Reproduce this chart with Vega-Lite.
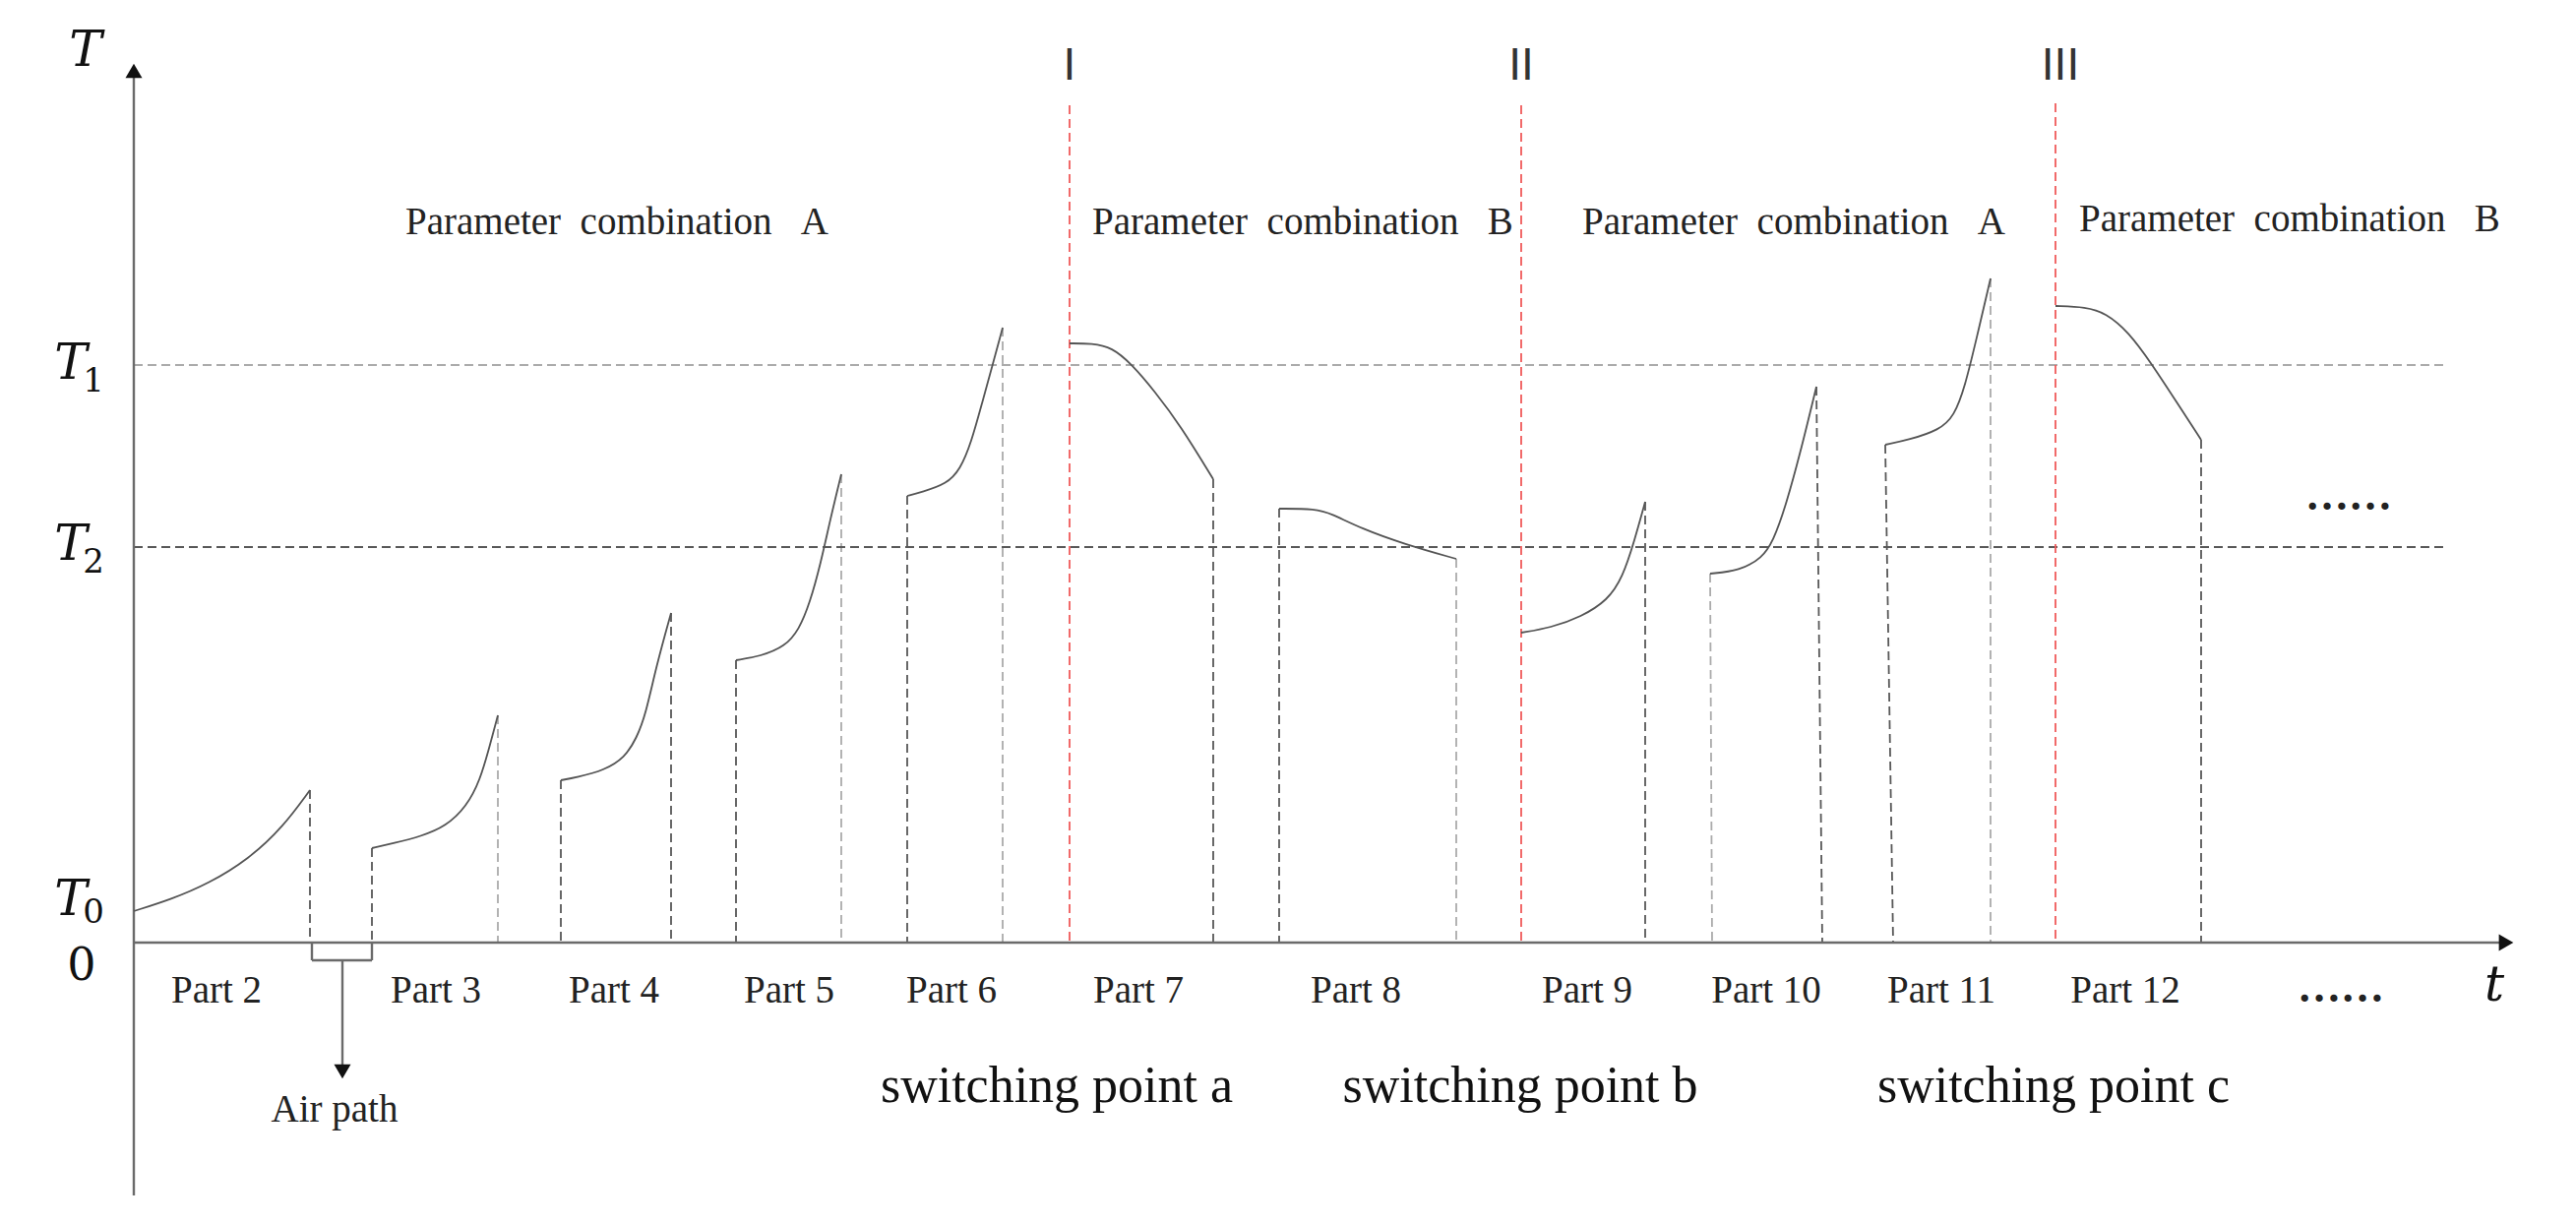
{
  "$schema": "https://vega.github.io/schema/vega-lite/v6.json",
  "width": 2618,
  "height": 1243,
  "autosize": {"type": "fit", "contains": "padding"},
  "padding": 0,
  "background": "white",
  "config": {"view": {"stroke": null}},
  "datasets": {
    "curves": [
      {"part": "Part 2", "t": 0, "T": 32}, {"part": "Part 2", "t": 38, "T": 44}, {"part": "Part 2", "t": 76, "T": 60}, {"part": "Part 2", "t": 117, "T": 85}, {"part": "Part 2", "t": 152, "T": 118}, {"part": "Part 2", "t": 179, "T": 155},
      {"part": "Part 3", "t": 242, "T": 96}, {"part": "Part 3", "t": 264, "T": 101}, {"part": "Part 3", "t": 292, "T": 108}, {"part": "Part 3", "t": 317, "T": 118}, {"part": "Part 3", "t": 338, "T": 138}, {"part": "Part 3", "t": 352, "T": 165}, {"part": "Part 3", "t": 362, "T": 201}, {"part": "Part 3", "t": 370, "T": 231},
      {"part": "Part 4", "t": 434, "T": 165}, {"part": "Part 4", "t": 450, "T": 168}, {"part": "Part 4", "t": 478, "T": 175}, {"part": "Part 4", "t": 499, "T": 188}, {"part": "Part 4", "t": 511, "T": 208}, {"part": "Part 4", "t": 520, "T": 231}, {"part": "Part 4", "t": 531, "T": 281}, {"part": "Part 4", "t": 546, "T": 335},
      {"part": "Part 5", "t": 612, "T": 287}, {"part": "Part 5", "t": 637, "T": 291}, {"part": "Part 5", "t": 662, "T": 301}, {"part": "Part 5", "t": 676, "T": 318}, {"part": "Part 5", "t": 687, "T": 345}, {"part": "Part 5", "t": 698, "T": 385}, {"part": "Part 5", "t": 708, "T": 431}, {"part": "Part 5", "t": 719, "T": 476},
      {"part": "Part 6", "t": 786, "T": 454}, {"part": "Part 6", "t": 801, "T": 458}, {"part": "Part 6", "t": 826, "T": 466}, {"part": "Part 6", "t": 840, "T": 481}, {"part": "Part 6", "t": 851, "T": 508}, {"part": "Part 6", "t": 862, "T": 548}, {"part": "Part 6", "t": 873, "T": 588}, {"part": "Part 6", "t": 883, "T": 625},
      {"part": "Part 7", "t": 951, "T": 609}, {"part": "Part 7", "t": 974, "T": 609}, {"part": "Part 7", "t": 994, "T": 605}, {"part": "Part 7", "t": 1014, "T": 588}, {"part": "Part 7", "t": 1037, "T": 561}, {"part": "Part 7", "t": 1064, "T": 525}, {"part": "Part 7", "t": 1097, "T": 471},
      {"part": "Part 8", "t": 1164, "T": 441}, {"part": "Part 8", "t": 1201, "T": 441}, {"part": "Part 8", "t": 1217, "T": 436}, {"part": "Part 8", "t": 1247, "T": 421}, {"part": "Part 8", "t": 1291, "T": 405}, {"part": "Part 8", "t": 1344, "T": 390},
      {"part": "Part 9", "t": 1410, "T": 315}, {"part": "Part 9", "t": 1440, "T": 320}, {"part": "Part 9", "t": 1471, "T": 331}, {"part": "Part 9", "t": 1498, "T": 348}, {"part": "Part 9", "t": 1513, "T": 371}, {"part": "Part 9", "t": 1525, "T": 408}, {"part": "Part 9", "t": 1536, "T": 448},
      {"part": "Part 10", "t": 1602, "T": 375}, {"part": "Part 10", "t": 1632, "T": 378}, {"part": "Part 10", "t": 1655, "T": 391}, {"part": "Part 10", "t": 1666, "T": 408}, {"part": "Part 10", "t": 1678, "T": 441}, {"part": "Part 10", "t": 1693, "T": 495}, {"part": "Part 10", "t": 1710, "T": 565},
      {"part": "Part 11", "t": 1780, "T": 506}, {"part": "Part 11", "t": 1804, "T": 511}, {"part": "Part 11", "t": 1835, "T": 521}, {"part": "Part 11", "t": 1850, "T": 535}, {"part": "Part 11", "t": 1861, "T": 565}, {"part": "Part 11", "t": 1873, "T": 615}, {"part": "Part 11", "t": 1887, "T": 675},
      {"part": "Part 12", "t": 1953, "T": 647}, {"part": "Part 12", "t": 1984, "T": 646}, {"part": "Part 12", "t": 2004, "T": 640}, {"part": "Part 12", "t": 2027, "T": 621}, {"part": "Part 12", "t": 2051, "T": 588}, {"part": "Part 12", "t": 2077, "T": 548}, {"part": "Part 12", "t": 2101, "T": 511}
    ],
    "dashed": [
      {"t": 179, "T": 155, "t2": 179, "T2": 0, "tone": "dark"},
      {"t": 242, "T": 96, "t2": 242, "T2": 0, "tone": "dark"},
      {"t": 370, "T": 231, "t2": 370, "T2": 0, "tone": "light"},
      {"t": 434, "T": 165, "t2": 434, "T2": 0, "tone": "dark"},
      {"t": 546, "T": 335, "t2": 546, "T2": 0, "tone": "dark"},
      {"t": 612, "T": 287, "t2": 612, "T2": 0, "tone": "dark"},
      {"t": 719, "T": 476, "t2": 719, "T2": 0, "tone": "light"},
      {"t": 786, "T": 454, "t2": 786, "T2": 0, "tone": "dark"},
      {"t": 883, "T": 625, "t2": 883, "T2": 0, "tone": "light"},
      {"t": 1097, "T": 471, "t2": 1097, "T2": 0, "tone": "dark"},
      {"t": 1164, "T": 441, "t2": 1164, "T2": 0, "tone": "dark"},
      {"t": 1344, "T": 390, "t2": 1344, "T2": 0, "tone": "light"},
      {"t": 1536, "T": 448, "t2": 1536, "T2": 0, "tone": "dark"},
      {"t": 1602, "T": 375, "t2": 1604, "T2": 0, "tone": "light"},
      {"t": 1710, "T": 565, "t2": 1716, "T2": 0, "tone": "dark"},
      {"t": 1780, "T": 506, "t2": 1788, "T2": 0, "tone": "dark"},
      {"t": 1887, "T": 675, "t2": 1887, "T2": 0, "tone": "light"},
      {"t": 2101, "T": 511, "t2": 2101, "T2": 0, "tone": "dark"},
      {"t": 0, "T": 587, "t2": 2352, "T2": 587, "tone": "light"},
      {"t": 0, "T": 402, "t2": 2352, "T2": 402, "tone": "dark"},
      {"t": 951, "T": 851, "t2": 951, "T2": 0, "tone": "red"},
      {"t": 1410, "T": 851, "t2": 1410, "T2": 0, "tone": "red"},
      {"t": 1953, "T": 853, "t2": 1953, "T2": 0, "tone": "red"}
    ],
    "solid": [
      {"t": 0, "T": -257, "t2": 0, "T2": 880},
      {"t": 0, "T": 0, "t2": 2406, "T2": 0},
      {"t": 181, "T": 0, "t2": 181, "T2": -18},
      {"t": 181, "T": -18, "t2": 242, "T2": -18},
      {"t": 242, "T": 0, "t2": 242, "T2": -18},
      {"t": 212, "T": -18, "t2": 212, "T2": -124}
    ],
    "arrows": [
      {"t": 0, "T": 886, "dir": "up"},
      {"t": 2411, "T": 0, "dir": "right"},
      {"t": 212, "T": -131, "dir": "down"}
    ],
    "params": [
      {"t": 276, "T": 732, "label": "Parameter\u00a0\u00a0combination\u00a0\u00a0\u00a0A"},
      {"t": 974, "T": 732, "label": "Parameter\u00a0\u00a0combination\u00a0\u00a0\u00a0B"},
      {"t": 1472, "T": 732, "label": "Parameter\u00a0\u00a0combination\u00a0\u00a0\u00a0A"},
      {"t": 1977, "T": 735, "label": "Parameter\u00a0\u00a0combination\u00a0\u00a0\u00a0B"}
    ],
    "parts": [
      {"t": 84, "T": -49, "label": "Part\u00a02"},
      {"t": 307, "T": -49, "label": "Part\u00a03"},
      {"t": 488, "T": -49, "label": "Part\u00a04"},
      {"t": 666, "T": -49, "label": "Part\u00a05"},
      {"t": 831, "T": -49, "label": "Part\u00a06"},
      {"t": 1021, "T": -49, "label": "Part\u00a07"},
      {"t": 1242, "T": -49, "label": "Part\u00a08"},
      {"t": 1477, "T": -49, "label": "Part\u00a09"},
      {"t": 1659, "T": -49, "label": "Part\u00a010"},
      {"t": 1837, "T": -49, "label": "Part\u00a011"},
      {"t": 2024, "T": -49, "label": "Part\u00a012"},
      {"t": 204, "T": -170, "label": "Air path"}
    ],
    "switching": [
      {"t": 938, "T": -146, "label": "switching point a"},
      {"t": 1409, "T": -146, "label": "switching point b"},
      {"t": 1951, "T": -146, "label": "switching point c"}
    ],
    "roman": [
      {"t": 951, "T": 891, "label": "I"},
      {"t": 1410, "T": 891, "label": "II"},
      {"t": 1958, "T": 891, "label": "III"}
    ],
    "dots": [
      {"t": 2251, "T": 453, "label": "……"},
      {"t": 2243, "T": -47, "label": "……"}
    ],
    "mathMain": [
      {"t": -49, "T": 906, "label": "T"},
      {"t": -64, "T": 588, "label": "T"},
      {"t": -64, "T": 404, "label": "T"},
      {"t": -64, "T": 43, "label": "T"},
      {"t": 2399, "T": -44, "label": "t"}
    ],
    "mathSub": [
      {"t": -41, "T": 570, "label": "1"},
      {"t": -41, "T": 386, "label": "2"},
      {"t": -41, "T": 30, "label": "0"}
    ],
    "zero": [
      {"t": -53, "T": -24, "label": "0"}
    ]
  },
  "encoding": {
    "x": {"field": "t", "type": "quantitative", "scale": {"domain": [-136, 2482], "nice": false, "zero": false}, "axis": null},
    "y": {"field": "T", "type": "quantitative", "scale": {"domain": [-285, 958], "nice": false, "zero": false}, "axis": null}
  },
  "layer": [
    {
      "data": {"name": "dashed"},
      "mark": {"type": "rule", "strokeWidth": 1.8, "strokeDash": [9, 5]},
      "encoding": {
        "x2": {"field": "t2"},
        "y2": {"field": "T2"},
        "color": {"field": "tone", "type": "nominal", "scale": {"domain": ["dark", "light", "red"], "range": ["#585858", "#ababab", "#f05a5a"]}, "legend": null}
      }
    },
    {
      "data": {"name": "solid"},
      "mark": {"type": "rule", "strokeWidth": 2.4, "color": "#6a6a6a"},
      "encoding": {"x2": {"field": "t2"}, "y2": {"field": "T2"}}
    },
    {
      "data": {"name": "arrows"},
      "mark": {"type": "point", "filled": true, "size": 290, "color": "#111111", "opacity": 1},
      "encoding": {
        "shape": {"field": "dir", "type": "nominal", "scale": {"domain": ["up", "right", "down"], "range": ["triangle-up", "triangle-right", "triangle-down"]}, "legend": null}
      }
    },
    {
      "data": {"name": "curves"},
      "mark": {"type": "line", "interpolate": "basis", "strokeWidth": 1.8, "color": "#555555"},
      "encoding": {"detail": {"field": "part", "type": "nominal"}}
    },
    {
      "data": {"name": "params"},
      "mark": {"type": "text", "align": "left", "baseline": "middle", "font": "Liberation Serif", "fontSize": 39, "color": "#222222"},
      "encoding": {"text": {"field": "label"}}
    },
    {
      "data": {"name": "parts"},
      "mark": {"type": "text", "align": "center", "baseline": "middle", "font": "Liberation Serif", "fontSize": 39, "color": "#222222"},
      "encoding": {"text": {"field": "label"}}
    },
    {
      "data": {"name": "switching"},
      "mark": {"type": "text", "align": "center", "baseline": "middle", "font": "Liberation Serif", "fontSize": 52, "color": "#111111"},
      "encoding": {"text": {"field": "label"}}
    },
    {
      "data": {"name": "roman"},
      "mark": {"type": "text", "align": "center", "baseline": "middle", "font": "Liberation Sans", "fontSize": 46, "color": "#333333"},
      "encoding": {"text": {"field": "label"}}
    },
    {
      "data": {"name": "dots"},
      "mark": {"type": "text", "align": "center", "baseline": "middle", "font": "Liberation Serif", "fontSize": 44, "fontWeight": "bold", "color": "#222222"},
      "encoding": {"text": {"field": "label"}}
    },
    {
      "data": {"name": "mathMain"},
      "mark": {"type": "text", "align": "center", "baseline": "middle", "font": "DejaVu Serif", "fontStyle": "italic", "fontSize": 50, "color": "#111111"},
      "encoding": {"text": {"field": "label"}}
    },
    {
      "data": {"name": "mathSub"},
      "mark": {"type": "text", "align": "center", "baseline": "middle", "font": "DejaVu Serif", "fontSize": 34, "color": "#111111"},
      "encoding": {"text": {"field": "label"}}
    },
    {
      "data": {"name": "zero"},
      "mark": {"type": "text", "align": "center", "baseline": "middle", "font": "DejaVu Serif", "fontSize": 46, "color": "#111111"},
      "encoding": {"text": {"field": "label"}}
    }
  ]
}
